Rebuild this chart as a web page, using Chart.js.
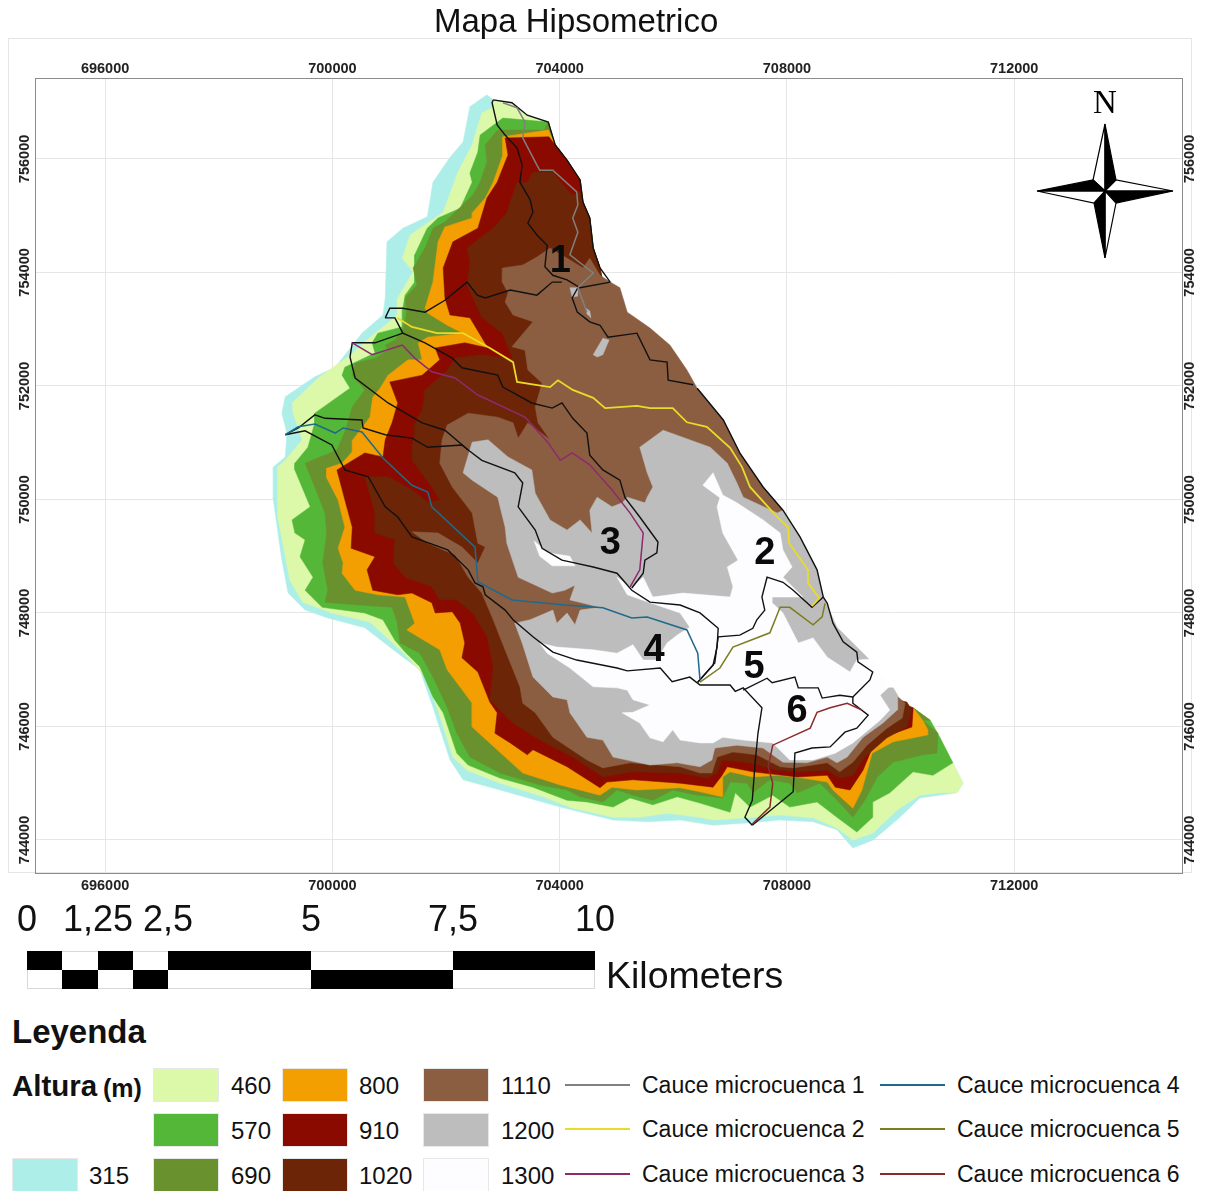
<!DOCTYPE html>
<html>
<head>
<meta charset="utf-8">
<title>Mapa Hipsometrico</title>
<script src="https://cdn.jsdelivr.net/npm/chart.js@4/dist/chart.umd.min.js"></script>
<style>
body { margin: 0; background: #fff; font-family: "Liberation Sans", Arial, sans-serif; color: #111; }
#page { position: relative; width: 1209px; height: 1191px; overflow: hidden; }
#page div, #page span.t { position: absolute; white-space: nowrap; }
#frame { left: 8px; top: 38px; width: 1184px; height: 835px; border: 1px solid #e6e6e6; box-sizing: border-box; }
#titulo { left: 434px; top: 2px; font-size: 33px; line-height: 38px; }
canvas { position: absolute; left: 0; top: 0; }
#rosa { position: absolute; left: 1030px; top: 85px; }
</style>
</head>
<body>
<div id="page">
  <div id="frame"></div>
  <canvas id="mapa" width="1209" height="900"></canvas>
  <div id="titulo">Mapa Hipsometrico</div>
  <svg id="rosa" width="150" height="180" viewBox="1030 85 150 180">
    <text x="1105" y="113" text-anchor="middle" font-family="Liberation Serif" font-size="33">N</text>
    <g stroke="#000" stroke-width="1.2" stroke-linejoin="miter">
      <polygon points="1105,124 1093,180 1105,191" fill="#fff"/>
      <polygon points="1105,124 1116,180 1105,191" fill="#000"/>
      <polygon points="1173,191 1116,180 1105,191" fill="#fff"/>
      <polygon points="1173,191 1116,203 1105,191" fill="#000"/>
      <polygon points="1105,258 1116,203 1105,191" fill="#fff"/>
      <polygon points="1105,258 1094,203 1105,191" fill="#000"/>
      <polygon points="1037,191 1094,203 1105,191" fill="#fff"/>
      <polygon points="1037,191 1093,180 1105,191" fill="#000"/>
    </g>
  </svg>
  <div id="abajo"></div>
</div>
<script>
// ejes del mapa (UTM, metros)
const xTicks = [696000, 700000, 704000, 708000, 712000];
const yTicks = [744000, 746000, 748000, 750000, 752000, 754000, 756000];

// borde este de la cuenca, compartido por casi todas las zonas
const eastEdge = [[702830,757040],[703160,756990],[703430,756770],[703800,756650],[703920,756250],[704130,755980],[704360,755630],[704410,755240],[704530,754960],[704590,754430],[704710,754080],[704890,753830],[705060,753730],[705190,753300],[705590,753020],[705940,752720],[706240,752280],[706420,751960],[706880,751400],[707170,750820],[707580,750220],[707930,749810],[708230,749340],[708530,748760],[708640,748280],[708880,747750],[709110,747520],[709460,747170],[709550,747000],[709730,746680],[709900,746640],[710220,746330],[710520,746110],[710690,745810],[710920,745360],[711100,745000],[710990,744830]];
// puntos interiores, quedan siempre tapados por las zonas altas
const innerSouth = [[709290,746640],[708230,748230]];
const innerNorth = [[706470,750870],[705410,752630],[704800,753600]];

// zonas de altura
const zone315 = [[702720,757130],[702420,756920],[702300,756300],[702070,756030],[701770,755590],[701670,754980],[701240,754780],[700960,754540],[700930,753550],[700890,753250],[700520,752930],[700050,752330],[699690,752160],[699170,751810],[699110,751520],[699200,751170],[699170,750750],[698960,750570],[698960,749990],[699110,748930],[699220,748350],[699520,748050],[699920,747910],[700570,747740],[701190,747260],[701540,747000],[701770,746340],[702070,745410],[702300,745060],[702950,744880],[704010,744580],[704940,744350],[705540,744320],[706120,744350],[706700,744260],[707300,744300],[707880,744350],[708460,744320],[708880,744180],[709160,743860],[709520,744000],[709990,744400],[710340,744740],[710690,744790]];
const zone460 = [[702830,756910],[702630,756810],[702460,756250],[702210,755770],[701950,755060],[701370,754660],[701230,754250],[701420,754010],[701150,753550],[701140,753250],[700980,753110],[700750,752930],[700270,752510],[699750,752140],[699290,751700],[699310,751520],[699470,751050],[699170,750690],[699040,750570],[699040,749690],[699250,748580],[699480,748190],[699990,748000],[700660,747840],[701190,747350],[701370,747170],[701630,746870],[701840,746340],[702120,745460],[702370,745230],[702950,745000],[703710,744760],[704230,744560],[704940,744400],[705410,744400],[705890,744470],[706470,744400],[706700,744350],[707300,744390],[707880,744440],[708460,744390],[708880,744210],[709160,744000],[709510,744120],[709940,744530],[710340,744790],[710690,744830]];
const zone570 = [[703350,756690],[703000,756720],[702600,756420],[702560,756120],[702420,755750],[702460,755590],[702250,755130],[701860,754960],[701670,754780],[701450,754310],[701450,753830],[701280,753600],[701240,753370],[701230,753040],[700800,752930],[700700,752760],[700750,752580],[700220,752330],[700170,752190],[700310,751960],[699690,751520],[699690,751350],[699570,750920],[699340,750640],[699340,750520],[699610,749870],[699290,749640],[699340,749410],[699520,749290],[699430,748990],[699660,748630],[699520,748400],[699820,748100],[700570,748000],[700890,747880],[701100,747520],[701280,747310],[701540,747050],[701770,746520],[701950,746240],[702190,745530],[702390,745320],[702950,745090],[703530,744930],[704130,744700],[704480,744670],[704940,744580],[705240,744740],[705640,744620],[706070,744760],[706470,744650],[707000,744490],[707090,744830],[707350,744580],[707750,744790],[708050,744580],[708530,744670],[708880,744400],[709230,744140],[709510,744400],[709510,744670],[709810,744830],[710220,745200],[710570,745140],[710920,745360]];
const zone690 = [[703730,756510],[702910,756510],[702690,756250],[702720,755950],[702600,755590],[702470,755360],[701980,754890],[701770,754780],[701630,754430],[701420,754080],[701490,753780],[701280,753550],[701310,753300],[701240,752990],[701100,752810],[700930,752720],[700980,752630],[700750,752490],[700400,752400],[700350,752190],[700570,751930],[700350,751630],[700220,751190],[700080,750870],[699520,750640],[699690,750220],[699870,749760],[699900,749410],[699830,748880],[699920,748400],[699870,748190],[700450,748140],[701050,748100],[701140,747840],[701190,747470],[701540,747290],[701770,746870],[702020,746340],[702190,745880],[702420,745460],[702950,745180],[703650,744970],[704130,744880],[704360,744760],[704760,744670],[705010,744880],[705290,744790],[705640,744700],[705990,744880],[706420,744790],[706870,744740],[707000,745020],[707300,745000],[707400,744830],[707700,745060],[708050,745000],[708180,744830],[708580,745000],[708880,744700],[709160,744400],[709370,744700],[709590,745110],[709870,745370],[710390,745500],[710640,745530],[710660,745880],[710390,746110]];
const zone800 = [[703800,756510],[703000,756390],[703000,756070],[702830,755590],[702690,755310],[702470,755060],[702460,754960],[701980,754800],[701860,754540],[701770,753830],[701630,753370],[701680,753280],[702020,753070],[702300,752930],[701680,752860],[701510,752760],[701580,752460],[701330,752460],[700980,752190],[700840,751960],[700710,751800],[700660,751450],[700360,751050],[700350,750840],[700170,750640],[699900,750550],[699900,750380],[700100,749990],[700220,749510],[700100,749140],[700190,748880],[700170,748700],[700400,748400],[700800,748320],[701280,748280],[701450,747820],[701310,747700],[701890,747350],[702020,747000],[702460,746410],[702460,745990],[702900,745590],[703350,745180],[704010,744970],[704710,744790],[704920,744930],[705360,744880],[706120,744920],[706470,744850],[706860,744760],[706870,745110],[707000,745200],[707400,745110],[707830,745140],[708280,745090],[708710,745020],[708810,744880],[709160,744560],[709320,744880],[709500,745530],[709870,745730],[710470,745850],[710480,745940],[710390,746110]];
const zone910 = [[703810,756390],[703040,756370],[703090,756070],[702900,755590],[702720,755310],[702560,754780],[702120,754540],[701950,754080],[701980,753550],[702070,753250],[702420,753200],[702740,752670],[702330,752760],[701810,752670],[701890,752460],[701580,752190],[701010,752070],[701150,751700],[701050,751350],[700930,751050],[700890,750750],[700570,750820],[700080,750520],[700220,749990],[700350,749510],[700330,749140],[700750,748990],[700610,748760],[700710,748400],[701150,748320],[701400,748350],[701750,748180],[701810,748000],[702110,748020],[702250,747820],[702330,747470],[702280,747210],[702560,746960],[702770,746430],[702900,746240],[702860,745880],[703130,745710],[703430,745500],[703530,745590],[704130,745290],[704710,744920],[704830,745020],[705290,745060],[706120,745000],[706700,744930],[706860,745140],[706950,745290],[707400,745200],[708180,745110],[708710,745140],[708850,744930],[709110,744880],[709340,745230],[709500,745620],[709810,745850],[710200,745990],[710220,746290]];
const zone1020 = [[704360,755420],[704230,755360],[704060,755540],[703880,755770],[703530,755770],[703430,755590],[703250,755590],[703130,755240],[703070,755050],[702830,754780],[702370,754430],[702420,754180],[702370,753780],[702630,753210],[702990,752930],[703180,752460],[703040,752490],[702630,752550],[702160,752490],[702030,752280],[701630,751930],[701580,751580],[701450,751350],[701450,751170],[701400,750920],[701400,750690],[701750,750220],[701890,749990],[701680,749950],[701400,750170],[700980,750400],[700570,750400],[700750,749760],[700750,749410],[701100,749290],[701070,748880],[701280,748630],[701750,748460],[701890,748230],[702190,748230],[702470,748000],[702720,747580],[702830,747050],[702770,746470],[703180,746060],[703650,745760],[704230,745460],[704760,745110],[705290,745200],[706120,745180],[706590,745090],[706770,745180],[706860,745410],[707350,745360],[707830,745230],[708180,745200],[708710,745230],[708930,745090],[709160,745140],[709370,745460],[709760,745800],[710110,745990],[710200,746290],[710110,746430]];
const zone1110 = [[704710,753950],[704530,754250],[704410,754080],[704130,754250],[703830,754430],[703600,754270],[703350,754130],[703000,754080],[702990,753830],[703090,753640],[703040,753480],[703180,753250],[703530,753130],[703160,752690],[703390,752630],[703440,752280],[703690,752050],[703570,751630],[703620,751350],[703830,751050],[703440,751350],[703270,751080],[703180,751350],[702910,751450],[702390,751520],[702020,751310],[701930,751050],[701890,750640],[702110,750220],[702460,749760],[702560,749230],[702690,749160],[702560,748880],[702280,749160],[701860,749410],[701400,749430],[701680,749230],[702160,749020],[702390,748630],[702630,748350],[702830,747880],[702990,747470],[703300,746700],[703350,746410],[703570,746240],[703880,745810],[704480,745410],[704760,745270],[705240,745360],[706120,745290],[706470,745180],[706680,745180],[706770,745460],[707050,745550],[707470,745500],[707880,745290],[708110,745270],[708710,745360],[708930,745200],[709160,745370],[709410,745670],[709760,745970],[710030,746150],[710080,746410],[709900,746570]];
const zone1200 = [[707830,749760],[707230,750040],[707120,750290],[706950,750640],[706650,750920],[705820,751220],[705410,750920],[705540,750470],[705640,750220],[705540,750040],[705500,749940],[705190,750040],[705100,749940],[704920,749870],[704660,750040],[704530,749810],[704570,749410],[704360,749640],[704130,749460],[703830,749640],[703570,750110],[703510,750520],[703090,750750],[702740,751050],[702460,751010],[702300,750470],[702460,750340],[702910,750040],[703040,749510],[703070,749230],[703270,748630],[703870,748350],[704090,748400],[704270,748490],[704180,748230],[704710,748100],[704360,748050],[704270,747790],[704130,748000],[703950,747820],[703880,748050],[703480,747880],[703210,747820],[703340,747470],[703530,746870],[703880,746520],[704130,746470],[704180,746240],[704480,745810],[704760,745760],[704940,745460],[705590,745320],[706070,745360],[706470,745290],[706680,745410],[706730,745620],[707120,745670],[707580,745620],[707930,745370],[708350,745360],[708710,745460],[708880,745360],[709060,745460],[709340,745810],[709690,746060],[709940,746290],[709950,746550],[709870,746680]];
const patch1200a = [[704590,752550],[704760,752840],[704870,752810],[704760,752550],[704660,752510]];
const patch1200b = [[704180,753730],[704320,753730],[704310,753580],[704220,753570]];
const patch1200c = [[704460,753370],[704530,753320],[704550,753200],[704480,753270]];
const zone1300 = [[705010,748630],[705190,748320],[705590,748180],[706120,748000],[706290,747750],[706070,747610],[705890,747470],[705710,747170],[705470,747170],[705290,747440],[705010,747290],[704590,747350],[703950,747400],[703650,747470],[703780,747290],[704180,747030],[704590,746700],[705010,746680],[705190,746640],[705290,746470],[705590,746380],[705290,746250],[705100,746240],[705410,746060],[705590,745800],[705820,745730],[705990,745940],[706120,745760],[706470,745710],[706700,745710],[706870,745810],[707230,745760],[707750,745710],[708050,745410],[708460,745410],[708850,745530],[709160,745710],[709640,746110],[709810,746290],[709640,746550],[709800,746700],[709620,746980],[709500,747190],[709230,747170],[709110,746960],[708710,747220],[708460,747560],[708200,747470],[707930,748000],[707740,748180],[707740,748280],[708000,748280],[708280,748280],[707930,748630],[708090,748810],[707930,749110],[707880,749410],[707580,749640],[707120,749940],[706870,750080],[706700,750470],[706520,750250],[706820,750030],[706770,749870],[706870,749410],[707140,748930],[706950,748810],[707050,748460],[707000,748280],[706170,748350],[705640,748280],[705470,748630],[705360,748530],[705270,748440]];
const patch1300 = [[703550,749270],[703790,749060],[704180,749000],[704270,748830],[703870,748830],[703650,749000]];

// divisorias de microcuencas
const ridgeA = [[702830,757040],[702810,756990],[702900,756600],[703040,756420],[703250,756190],[703340,755890],[703300,755590],[703480,755280],[703530,755060],[703440,754870],[703600,754660],[703780,754480],[703740,754100],[703880,753950],[704130,753870],[704360,753730],[704890,753830]];
const ridgeB = [[700930,753200],[701010,753370],[701240,753370],[701630,753300],[701980,753510],[702370,753830],[702550,753600],[702690,753550],[703130,753690],[703600,753600],[703870,753830],[704040,753830]];
const ridgeC = [[704320,753730],[704220,753550],[704310,753300],[704530,753130],[704710,753070],[704850,752860],[705360,752930],[705590,752460],[705890,752420],[705910,752100],[706350,752020]];
const ridgeD = [[700930,753200],[701100,753200],[701240,752930],[701630,752760],[702110,752490],[702280,752320],[702910,752190],[703000,751980],[703510,751700],[703870,751610],[704040,751700],[704230,751430],[704480,751170],[704530,750780],[704760,750520],[705060,750340],[705150,750030],[705410,749690],[705730,749250],[705710,749060],[705500,748930],[705470,748700],[705270,748440]];
const ridgeE = [[701240,752930],[700750,752760],[700350,752760],[700310,752510],[700400,752140],[700980,751700],[701580,751350],[701980,751220],[702390,750870],[702630,750690],[703210,750470],[703350,750290],[703270,749870],[703570,749460],[703690,749140],[704040,748930],[704180,748900],[704590,748810],[705010,748700],[705270,748400],[705590,748190],[706120,748140],[706470,748000],[706790,747730],[706770,747400],[706700,747080],[706430,746780]];
const ridgeF = [[699170,751140],[699400,751260],[699690,751490],[699870,751430],[700520,751400],[700540,751260],[700930,751140],[701400,751080],[701680,750920],[702280,750960],[702390,750870]];
const ridgeG = [[699170,751140],[699520,751210],[699990,750960],[700220,750520],[700630,750400],[700930,749870],[701150,749690],[701400,749340],[702030,749110],[702390,748760],[702510,748530],[702650,748460],[702690,748320],[703040,748050],[703180,747880],[703530,747580],[703880,747310],[704300,747170],[705010,747030],[705190,746980],[705770,747030],[705980,746790],[706290,746870],[706470,746730],[707000,746730],[707090,746620],[707230,746680],[707560,746330],[707490,745880],[707440,745360],[707390,744700],[707260,744400],[707390,744260]];
const ridgeH = [[707230,746640],[707650,746850],[707740,746770],[708140,746870],[708200,746680],[708550,746680],[708620,746500],[708930,746550],[709160,746520],[709460,746820],[709510,746960],[709250,747140],[709230,747310],[708990,747490],[708810,747820],[708710,748170],[708640,748280]];
const ridgeI = [[707390,744260],[708110,744850],[708140,745530],[708440,745620],[708760,745640],[709020,745900],[709230,745970],[709430,746200],[709160,746410],[709160,746520]];
const ridgeJ = [[706430,746780],[706730,747120],[706790,747580],[707170,747610],[707400,747730],[707470,747880],[707610,748050],[707560,748280],[707650,748630],[707930,748540],[708110,748400],[708440,748100],[708640,748280]];

// cauces
const cauce1 = [[703000,756990],[703250,756900],[703390,756650],[703350,756370],[703600,755890],[703650,755800],[703880,755800],[704300,755420],[704320,755190],[704230,754960],[704320,754710],[704180,754310],[704590,753990],[704320,753730],[704480,753300]];
const cauce2 = [[701140,753200],[701400,753040],[701840,752930],[702300,752930],[702770,752670],[703180,752420],[703250,752070],[703830,751980],[703970,752100],[704230,751930],[704590,751790],[704800,751610],[705360,751650],[705590,751610],[705990,751610],[706240,751360],[706590,751280],[707000,750910],[707210,750570],[707350,750220],[707830,749690],[708020,749510],[708040,749230],[708370,748760],[708370,748530],[708570,748260],[708440,748120]];
const cauce3 = [[700350,752760],[700700,752550],[701230,752720],[701450,752490],[701750,752250],[702160,752140],[702560,751840],[703390,751450],[703790,751010],[704010,750690],[704220,750820],[704530,750610],[704920,750170],[705240,749760],[705470,749410],[705410,748760],[705240,748460]];
const cauce4 = [[699170,751140],[699400,751280],[699690,751330],[700050,751170],[700190,751260],[700520,751190],[700890,750730],[701400,750250],[701680,750130],[701750,749870],[702510,749160],[702560,748550],[703160,748230],[704090,748140],[704760,748090],[705270,747910],[705540,747930],[706240,747700],[706430,747290],[706470,746820]];
const cauce5 = [[706470,746780],[706820,747030],[707050,747400],[707700,747650],[707880,748100],[708050,748100],[708460,747790],[708620,747930],[708670,748170]];
const cauce6 = [[707390,744280],[707700,744580],[707750,745000],[707670,745290],[707750,745670],[708410,745970],[708530,746250],[708760,746330],[709060,746410],[709320,746290]];

// numeros de microcuenca
const basinNames = ["1", "2", "3", "4", "5", "6"];
const basinEast = [704010, 707610, 704890, 705660, 707420, 708180];
const basinNorth = [754200, 749050, 749220, 747340, 747040, 746260];

// leyenda
const zoneLabels = ["315", "460", "570", "690", "800", "910", "1020", "1110", "1200", "1300"];
const zoneColors = ["#aeeee8", "#dcf8a9", "#55b738", "#69922f", "#f39f02", "#8b0a00", "#6d2507", "#8b5e42", "#bdbdbd", "#fdfcfe"];
const cauceLabels = ["Cauce microcuenca 1", "Cauce microcuenca 2", "Cauce microcuenca 3", "Cauce microcuenca 4", "Cauce microcuenca 5", "Cauce microcuenca 6"];
const cauceColors = ["#808080", "#e8dc28", "#8e2a6e", "#1f6a8c", "#7d7d20", "#8b2a2a"];
const scaleLabels = ["0", "1,25", "2,5", "5", "7,5", "10"];

function toPoints(list) {
    return list.map(p => ({ x: p[0], y: p[1] }));
}

function closed(list) {
    return list.concat([list[0]]);
}

// zona baja: su borde oeste/sur, el tramo SE del borde este y vuelta por dentro
function lowZone(arc, from, to) {
    return closed(arc.concat(eastEdge.slice(31, to).reverse(), innerSouth, innerNorth, eastEdge.slice(from, 11).reverse()));
}

function areaSet(list, color) {
    return {
        data: toPoints(list),
        showLine: true,
        fill: "shape",
        backgroundColor: color,
        borderColor: color,
        borderWidth: 0.5,
        pointRadius: 0,
        tension: 0
    };
}

function lineSet(list, color, width) {
    return {
        data: toPoints(list),
        showLine: true,
        fill: false,
        borderColor: color,
        borderWidth: width,
        pointRadius: 0,
        tension: 0
    };
}

const sets = [
    areaSet(lowZone(zone315, 0, 37), zoneColors[0]),
    areaSet(lowZone(zone460, 0, 37), zoneColors[1]),
    areaSet(lowZone(zone570, 3, 35), zoneColors[2]),
    areaSet(lowZone(zone690, 3, 33), zoneColors[3]),
    areaSet(lowZone(zone800, 4, 32), zoneColors[4]),
    areaSet(lowZone(zone910, 4, 32), zoneColors[5]),
    areaSet(lowZone(zone1020, 7, 31), zoneColors[6]),
    areaSet(closed(zone1110.concat(innerSouth, eastEdge.slice(11, 22).reverse())), zoneColors[7]),
    areaSet(closed(zone1200.concat(eastEdge.slice(21, 30).reverse())), zoneColors[8]),
    areaSet(closed(patch1200a), zoneColors[8]),
    areaSet(closed(patch1200b), zoneColors[8]),
    areaSet(closed(patch1200c), zoneColors[8]),
    areaSet(closed(zone1300), zoneColors[9]),
    areaSet(closed(patch1300), zoneColors[9]),
    lineSet(eastEdge.slice(0, 12), "#111", 1.4),
    lineSet(eastEdge.slice(17, 25), "#111", 1.4),
    lineSet(ridgeA, "#111", 1.4),
    lineSet(ridgeB, "#111", 1.4),
    lineSet(ridgeC, "#111", 1.4),
    lineSet(ridgeD, "#111", 1.4),
    lineSet(ridgeE, "#111", 1.4),
    lineSet(ridgeF, "#111", 1.4),
    lineSet(ridgeG, "#111", 1.4),
    lineSet(ridgeH, "#111", 1.4),
    lineSet(ridgeI, "#111", 1.4),
    lineSet(ridgeJ, "#111", 1.4),
    lineSet(cauce1, cauceColors[0], 1.5),
    lineSet(cauce2, cauceColors[1], 1.8),
    lineSet(cauce3, cauceColors[2], 1.5),
    lineSet(cauce4, cauceColors[3], 1.5),
    lineSet(cauce5, cauceColors[4], 1.5),
    lineSet(cauce6, cauceColors[5], 1.5)
];
// los ultimos van arriba
sets.forEach((s, i) => { s.order = sets.length - i; });

const basinNumbers = {
    id: "basinNumbers",
    afterDatasetsDraw(chart) {
        const c = chart.ctx;
        c.save();
        c.font = "bold 38px 'Liberation Sans'";
        c.fillStyle = "#0a0a0a";
        c.textAlign = "center";
        c.textBaseline = "middle";
        basinNames.forEach((name, i) => {
            c.fillText(name, chart.scales.x.getPixelForValue(basinEast[i]), chart.scales.y.getPixelForValue(basinNorth[i]));
        });
        c.restore();
    }
};

const tickFont = { family: "Liberation Sans", size: 14.5, weight: "bold" };
const xRange = { min: 694766, max: 714953 };
const yRange = { min: 743418, max: 757426 };

function axisBase(range, list, extra) {
    return Object.assign({
        min: range.min,
        max: range.max,
        afterBuildTicks: axis => { axis.ticks = list.map(v => ({ value: v })); },
        border: { display: true, color: "#8c8c8c", width: 1 }
    }, extra);
}

function labelCallback(v) {
    return String(v);
}

new Chart(document.getElementById("mapa").getContext("2d"), {
    type: "scatter",
    data: { datasets: sets },
    plugins: [basinNumbers],
    options: {
        responsive: false,
        animation: false,
        layout: { padding: { left: 8, top: 38, right: 11, bottom: 2 } },
        plugins: { legend: { display: false }, tooltip: { enabled: false }, title: { display: false } },
        scales: {
            x: axisBase(xRange, xTicks, {
                position: "bottom",
                grid: { color: "#e6e6e6", lineWidth: 1, drawTicks: false },
                afterFit: s => { s.height = 25; },
                ticks: { font: tickFont, color: "#222", padding: 4, maxRotation: 0, autoSkip: false, callback: labelCallback }
            }),
            x2: axisBase(xRange, xTicks, {
                axis: "x",
                position: "top",
                grid: { display: false, drawTicks: false },
                afterFit: s => { s.height = 40; },
                ticks: { font: tickFont, color: "#222", padding: 0, maxRotation: 0, autoSkip: false, callback: labelCallback }
            }),
            y: axisBase(yRange, yTicks, {
                position: "left",
                grid: { color: "#e6e6e6", lineWidth: 1, drawTicks: false },
                afterFit: s => { s.width = 27; },
                ticks: { font: tickFont, color: "#222", padding: -14, minRotation: 90, maxRotation: 90, crossAlign: "center", autoSkip: false, callback: labelCallback }
            }),
            y2: axisBase(yRange, yTicks, {
                axis: "y",
                position: "right",
                grid: { display: false, drawTicks: false },
                afterFit: s => { s.width = 16; },
                ticks: { font: tickFont, color: "#222", padding: -16, minRotation: 90, maxRotation: 90, crossAlign: "center", autoSkip: false, callback: labelCallback }
            })
        }
    }
});

// escala grafica y leyenda
const abajo = document.getElementById("abajo");
function put(html, left, top, css) {
    const d = document.createElement("div");
    d.textContent = html;
    d.style.cssText = "left:" + left + "px;top:" + top + "px;" + (css || "");
    abajo.appendChild(d);
    return d;
}

const scaleStops = [27, 62, 98, 133, 168, 311, 453, 595];
const scaleTextX = [27, 98, 168, 311, 453, 595];
scaleLabels.forEach((t, i) => {
    put(t, scaleTextX[i], 898, "font-size:36px;line-height:42px;transform:translateX(-50%);");
});
put("", 27, 951, "width:568px;height:38px;box-sizing:border-box;border:1px solid #d8d8d8;");
for (let i = 0; i < scaleStops.length - 1; i++) {
    const top = i % 2 === 0 ? 951 : 970;
    put("", scaleStops[i], top, "background:#000;height:19px;width:" + (scaleStops[i + 1] - scaleStops[i]) + "px;");
}
put("Kilometers", 606, 954, "font-size:37.5px;line-height:42px;");

put("Leyenda", 12, 1013, "font-size:33px;line-height:38px;font-weight:bold;");
put("Altura", 12, 1069, "font-size:29.5px;line-height:34px;font-weight:bold;");
put("(m)", 103, 1071, "font-size:25px;line-height:34px;font-weight:bold;");

const swatchX = [12, 153, 153, 153, 282, 282, 282, 423, 423, 423];
const swatchY = [1158, 1068, 1113, 1158, 1068, 1113, 1158, 1068, 1113, 1158];
const labelX = [89, 231, 231, 231, 359, 359, 359, 501, 501, 501];
zoneLabels.forEach((t, i) => {
    put("", swatchX[i], swatchY[i], "width:66px;height:34px;box-sizing:border-box;border:1px solid #e8e8e8;background:" + zoneColors[i] + ";");
    put(t, labelX[i], swatchY[i] + 3, "font-size:24px;line-height:30px;");
});

const cauceLineX = [565, 565, 565, 880, 880, 880];
const cauceTextX = [642, 642, 642, 957, 957, 957];
const cauceY = [1084, 1128, 1173, 1084, 1128, 1173];
cauceLabels.forEach((t, i) => {
    put("", cauceLineX[i], cauceY[i], "width:65px;height:2px;background:" + cauceColors[i] + ";");
    put(t, cauceTextX[i], cauceY[i] - 14, "font-size:23px;line-height:30px;");
});
</script>
</body>
</html>
